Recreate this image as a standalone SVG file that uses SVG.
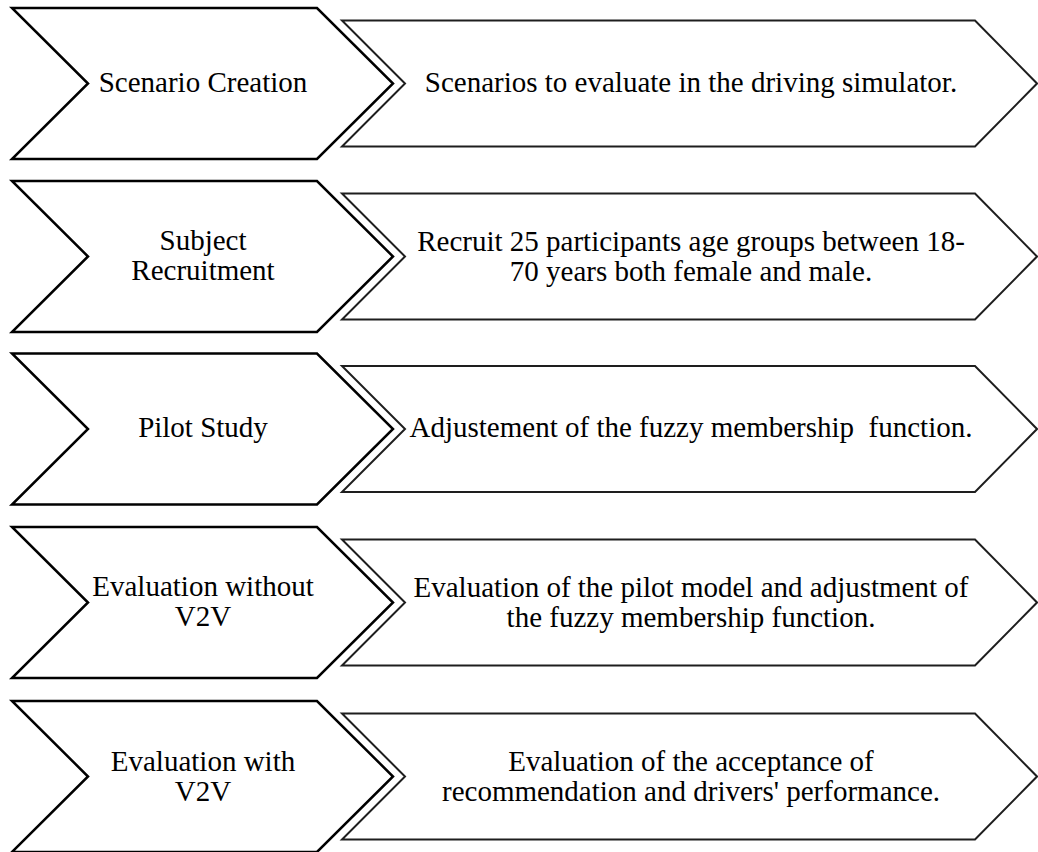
<svg xmlns="http://www.w3.org/2000/svg" width="1038" height="852" viewBox="0 0 1038 852">
<style>
.l{fill:#fff;stroke:#000;stroke-width:2.5;stroke-linejoin:miter}
.r{fill:#fff;stroke:#1e1e1e;stroke-width:2;stroke-linejoin:miter}
.t{font-size:29px;fill:#000;text-anchor:middle;white-space:pre}
</style>
<rect width="1038" height="852" fill="#fff"/>
<g id="connectors"/>
<g font-family="'Liberation Serif', Tinos, 'Times New Roman', serif">
<g id="step1">
<polygon class="l" points="12,8 317,8 393,83.5 317,159 12,159 88,83.5"/>
<text class="t" x="203" y="92">Scenario Creation</text>
</g>
<g id="detail1">
<polygon class="r" points="342,20.5 975,20.5 1037,83.5 975,146.5 342,146.5 405,83.5"/>
<text class="t" x="691" y="92">Scenarios to evaluate in the driving simulator.</text>
</g>
<g id="step2">
<polygon class="l" points="12,181 317,181 393,256.5 317,332 12,332 88,256.5"/>
<text class="t" x="203" y="250">Subject</text>
<text class="t" x="203" y="280">Recruitment</text>
</g>
<g id="detail2">
<polygon class="r" points="342,193.5 975,193.5 1037,256.5 975,319.5 342,319.5 405,256.5"/>
<text class="t" x="691" y="251">Recruit 25 participants age groups between 18-</text>
<text class="t" x="691" y="281">70 years both female and male.</text>
</g>
<g id="step3">
<polygon class="l" points="12,353.5 317,353.5 393,429 317,504.5 12,504.5 88,429"/>
<text class="t" x="203" y="437">Pilot Study</text>
</g>
<g id="detail3">
<polygon class="r" points="342,366 975,366 1037,429 975,492 342,492 405,429"/>
<text class="t" x="691" y="437">Adjustement of the fuzzy membership  function.</text>
</g>
<g id="step4">
<polygon class="l" points="12,527 317,527 393,602.5 317,678 12,678 88,602.5"/>
<text class="t" x="203" y="596">Evaluation without</text>
<text class="t" x="203" y="626">V2V</text>
</g>
<g id="detail4">
<polygon class="r" points="342,539.5 975,539.5 1037,602.5 975,665.5 342,665.5 405,602.5"/>
<text class="t" x="691" y="597">Evaluation of the pilot model and adjustment of</text>
<text class="t" x="691" y="627">the fuzzy membership function.</text>
</g>
<g id="step5">
<polygon class="l" points="12,701 317,701 393,776.5 317,852 12,852 88,776.5"/>
<text class="t" x="203" y="771">Evaluation with</text>
<text class="t" x="203" y="801">V2V</text>
</g>
<g id="detail5">
<polygon class="r" points="342,713.5 975,713.5 1037,776.5 975,839.5 342,839.5 405,776.5"/>
<text class="t" x="691" y="771">Evaluation of the acceptance of</text>
<text class="t" x="691" y="801">recommendation and drivers' performance.</text>
</g>
</g>
</svg>
